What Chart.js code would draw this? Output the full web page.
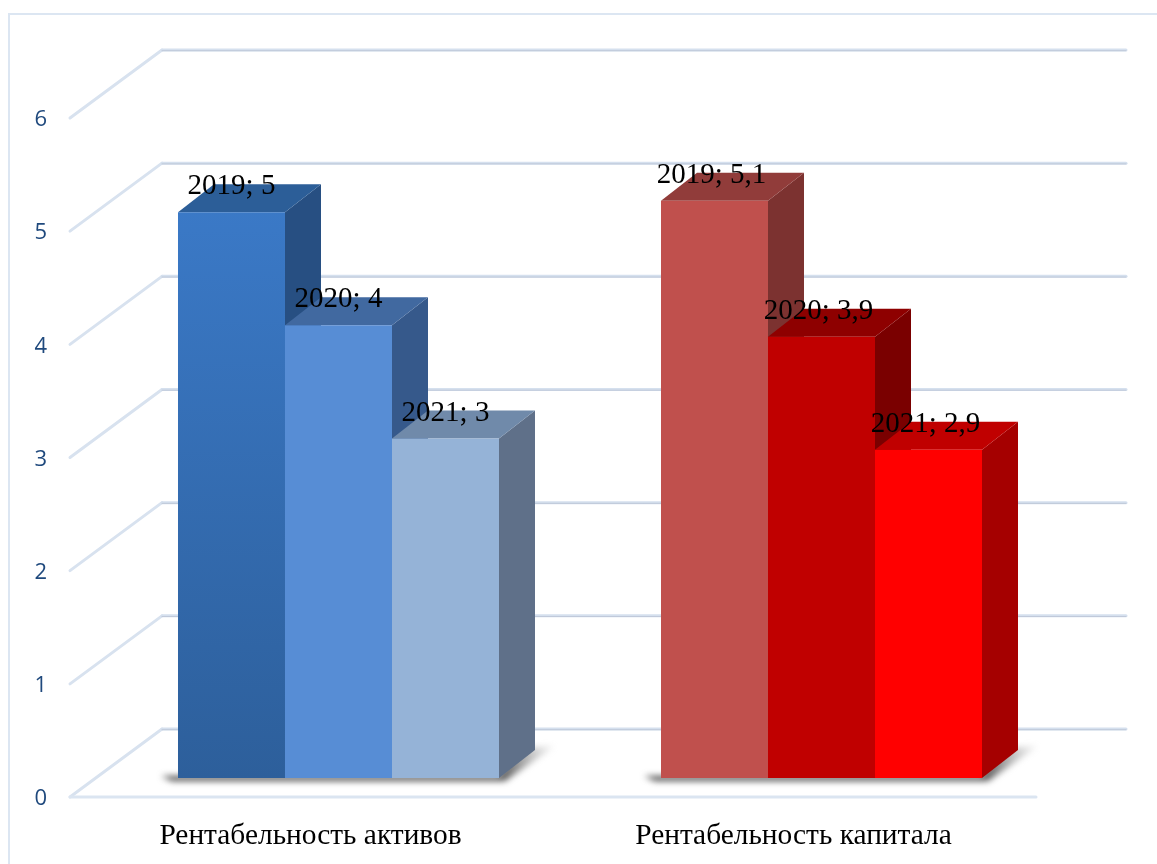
<!DOCTYPE html>
<html>
<head>
<meta charset="utf-8">
<title>Рентабельность</title>
<script src="https://cdn.jsdelivr.net/npm/chart.js@4"></script>
<style>
  html, body { margin: 0; padding: 0; background: #fff; }
  canvas { display: block; }
</style>
</head>
<body>
<canvas id="rentChart" width="1157" height="864"></canvas>
<script>
var categories = ['Рентабельность активов', 'Рентабельность капитала'];
var years = ['2019', '2020', '2021'];
var values2019 = [5, 5.1];
var values2020 = [4, 3.9];
var values2021 = [3, 2.9];

// Front, side and top colours: one row per year, one entry per category
var frontColors = [['#3b7bca', '#c0504d'], ['#578dd5', '#c00000'], ['#95b3d7', '#ff0000']];
var sideColors = [['#274f82', '#7c3230'], ['#36598b', '#7a0000'], ['#5f7089', '#a50000']];
var topColors = [['#2c5e98', '#913c3a'], ['#4169a0', '#8e0000'], ['#708aaa', '#c00000']];

// Depth of the bars and of the whole box, in pixels
var barDepth = { x: 36, y: -28 };
var floorFront = { x: -27, y: 19 };
var floorBack = { x: 64, y: -49 };

// Sideways nudge of the value labels per category
var labelShift = [0, -3];

function poly(ctx, pts, color) {
  ctx.fillStyle = color;
  ctx.beginPath();
  ctx.moveTo(pts[0][0], pts[0][1]);
  for (var i = 1; i < pts.length; i++) ctx.lineTo(pts[i][0], pts[i][1]);
  ctx.closePath();
  ctx.fill();
}

function line(ctx, x1, y1, x2, y2, color, width) {
  ctx.strokeStyle = color;
  ctx.lineWidth = width;
  ctx.lineCap = 'round';
  ctx.beginPath();
  ctx.moveTo(x1, y1);
  ctx.lineTo(x2, y2);
  ctx.stroke();
}

// Frame, box walls and floor shadows under everything else
var boxPlugin = {
  id: 'box',
  beforeDatasetsDraw: function (chart) {
    var ctx = chart.ctx;
    var area = chart.chartArea;
    var yScale = chart.scales.y;
    ctx.save();

    ctx.fillStyle = '#dce6f2';
    ctx.fillRect(8, 13, 1149, 2);
    ctx.fillRect(8, 13, 2, 851);

    yScale.ticks.forEach(function (tick) {
      var y = yScale.getPixelForValue(tick.value);
      var fx = area.left + floorFront.x;
      var fy = y + floorFront.y;
      var bx = area.left + floorBack.x + 1;
      var by = y + floorBack.y;
      line(ctx, fx, fy, bx, by, '#d8e2ef', 3);
      line(ctx, bx, by, area.right + floorBack.x - 1, by, '#d5e0ee', 3);
      line(ctx, bx, by + 0.7, area.right + floorBack.x - 1, by + 0.7, '#bfc9d9', 1);
    });
    var y0 = yScale.getPixelForValue(0);
    line(ctx, area.left + floorFront.x, y0 + floorFront.y, area.right + floorFront.x, y0 + floorFront.y, '#dbe5f1', 3);

    // Soft shadow on the floor under each bar group
    categories.forEach(function (c, i) {
      var first = chart.getDatasetMeta(0).data[i];
      var last = chart.getDatasetMeta(2).data[i];
      var left = first.x - first.width / 2;
      var right = last.x + last.width / 2;
      var grad = ctx.createLinearGradient(right, y0, right + 56, y0 - 30);
      grad.addColorStop(0, '#4a4a4a');
      grad.addColorStop(1, 'rgba(150,150,150,0.1)');
      ctx.save();
      ctx.filter = 'blur(3px)';
      poly(ctx, [[left - 17, y0 - 2], [right, y0 - 2], [right + 18, y0 - 30], [right + 56, y0 - 32],
        [right + 6, y0 + 3], [left - 6, y0 + 3]], grad);
      ctx.restore();
    });

    // Side and top faces, series by series so later bars cover earlier ones
    chart.data.datasets.forEach(function (ds, d) {
      chart.getDatasetMeta(d).data.forEach(function (bar, i) {
        var l = bar.x - bar.width / 2;
        var r = bar.x + bar.width / 2;
        poly(ctx, [[r, bar.y], [r + barDepth.x, bar.y + barDepth.y],
          [r + barDepth.x, bar.base + barDepth.y], [r, bar.base]], sideColors[d][i]);
        poly(ctx, [[l, bar.y], [l + barDepth.x, bar.y + barDepth.y],
          [r + barDepth.x, bar.y + barDepth.y], [r, bar.y]], topColors[d][i]);
      });
    });
    ctx.restore();
  },
  afterDatasetsDraw: function (chart) {
    var ctx = chart.ctx;
    ctx.save();
    ctx.font = '29px "Liberation Serif"';
    ctx.fillStyle = '#000';
    ctx.textAlign = 'center';
    ctx.textBaseline = 'alphabetic';
    chart.data.datasets.forEach(function (ds, d) {
      chart.getDatasetMeta(d).data.forEach(function (bar, i) {
        var text = ds.label + '; ' + String(ds.data[i]).replace('.', ',');
        ctx.fillText(text, bar.x + labelShift[i], bar.y - 18);
      });
    });
    ctx.restore();
  }
};

function barFill(d) {
  return function (context) {
    // The 2019 assets bar darkens towards the floor
    if (d === 0 && context.dataIndex === 0 && context.chart.chartArea) {
      var el = context.chart.getDatasetMeta(0).data[0];
      var area = context.chart.chartArea;
      var grad = context.chart.ctx.createLinearGradient(0, el && el.y ? el.y : area.top, 0, area.bottom);
      grad.addColorStop(0, '#3d7ecf');
      grad.addColorStop(1, '#2d5f9b');
      return grad;
    }
    return frontColors[d][context.dataIndex];
  };
}

var rentChart = new Chart(document.getElementById('rentChart').getContext('2d'), {
  type: 'bar',
  data: {
    labels: categories,
    datasets: [
      { label: years[0], data: values2019, backgroundColor: barFill(0) },
      { label: years[1], data: values2020, backgroundColor: barFill(1) },
      { label: years[2], data: values2021, backgroundColor: barFill(2) }
    ]
  },
  options: {
    responsive: false,
    animation: false,
    layout: { padding: { left: 0, right: 94, top: 99, bottom: 0 } },
    datasets: { bar: { categoryPercentage: 0.6646, barPercentage: 1, borderWidth: 0 } },
    plugins: { legend: { display: false }, tooltip: { enabled: false }, title: { display: false } },
    scales: {
      x: {
        grid: { display: false, drawTicks: false },
        border: { display: false },
        afterFit: function (scale) { scale.height = 86; },
        ticks: {
          color: '#000',
          font: { family: '"Liberation Serif"', size: 29.4 },
          padding: 41,
          labelOffset: floorFront.x - 1,
          maxRotation: 0,
          autoSkip: false
        }
      },
      y: {
        min: 0,
        max: 6,
        grid: { display: false, drawTicks: false },
        border: { display: false },
        afterFit: function (scale) { scale.width = 97; },
        ticks: {
          stepSize: 1,
          color: '#1f497d',
          font: { family: '"Open Sans"', size: 22 },
          padding: 50,
          labelOffset: floorFront.y + 2
        }
      }
    }
  },
  plugins: [boxPlugin]
});
</script>
</body>
</html>
